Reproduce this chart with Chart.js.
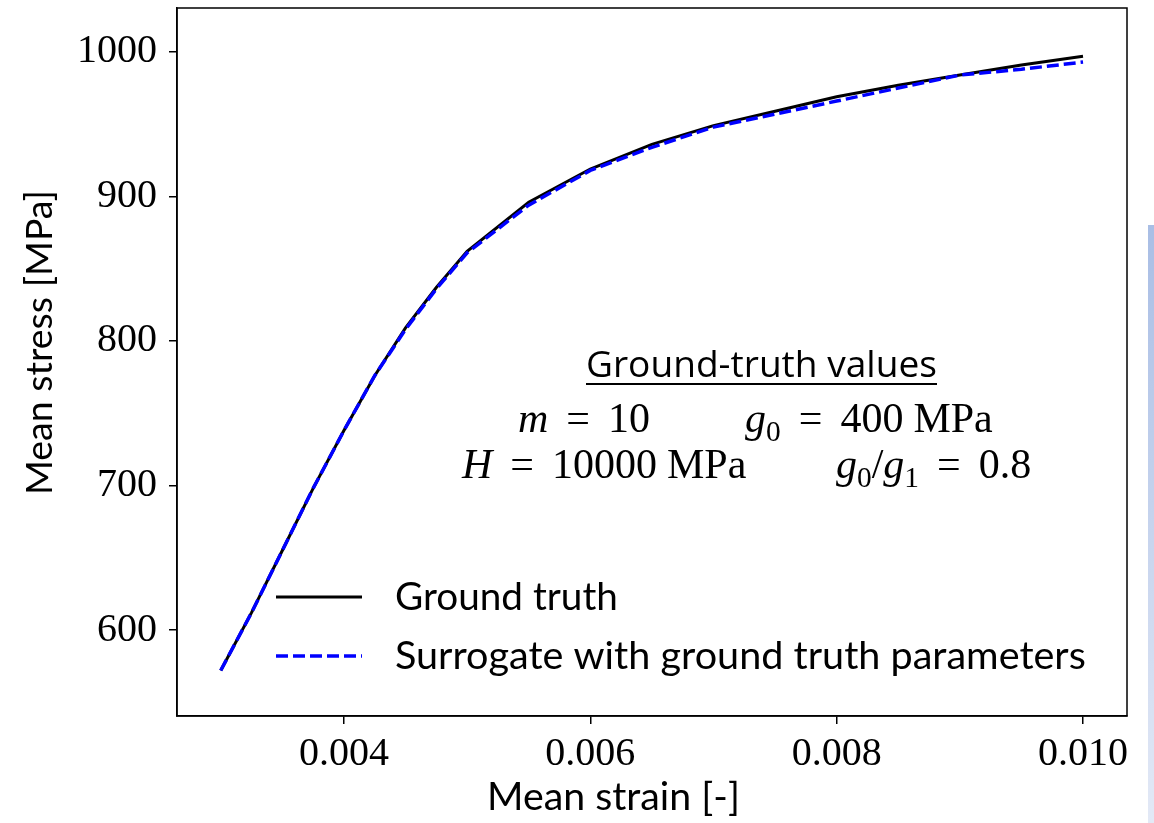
<!DOCTYPE html>
<html>
<head>
<meta charset="utf-8">
<script src="https://cdn.jsdelivr.net/npm/chart.js@4.4.1/dist/chart.umd.min.js"></script>
<style>
  html, body { margin: 0; padding: 0; background: #fff; }
  #wrap { position: relative; width: 1154px; height: 823px; }
  #edge { position: absolute; left: 1148px; top: 225px; width: 6px; height: 598px; background: linear-gradient(#a9bee5, #e3e9f6); }
</style>
</head>
<body>
<div id="wrap">
  <canvas id="stressChart" width="1154" height="823"></canvas>
  <div id="edge"></div>
</div>
<script>
// mean strain [-] and mean stress [MPa]
const strain = [0.003, 0.00325, 0.0035, 0.00375, 0.004, 0.00425, 0.0045, 0.00475, 0.005,
  0.0055, 0.006, 0.0065, 0.007, 0.0075, 0.008, 0.0085, 0.009, 0.0095, 0.010];
const groundTruth = [572, 612, 655, 698, 738, 776, 809, 837, 862,
  896, 919, 936, 949, 959, 969, 977, 984, 991, 997];
const surrogate = [572, 612, 655, 698, 738, 776, 808, 836, 861,
  894, 918, 934, 948, 957, 966, 975, 984, 988, 993];
const xTicks = [0.004, 0.006, 0.008, 0.010];
const yTicks = [600, 700, 800, 900, 1000];
const legendLabels = ['Ground truth', 'Surrogate with ground truth parameters'];

const toPoints = ys => strain.map((x, i) => ({ x, y: ys[i] }));

const serif = 'Liberation Serif';
const sans = 'Lato';

// draws a row of text pieces (math-ish), left aligned
function drawRuns(ctx, runs, x, baseline, size) {
  runs.forEach(r => {
    if (r.gap) { x += r.gap; return; }
    const s = r.sub ? size * 0.7 : size;
    ctx.font = (r.it ? 'italic ' : '') + s + 'px "' + serif + '"';
    ctx.fillText(r.t, x, baseline + (r.sub ? size * 0.22 : 0));
    x += ctx.measureText(r.t).width;
  });
}

function fitFont(ctx, text, family, width) {
  ctx.font = '40px "' + family + '"';
  const size = 40 * width / ctx.measureText(text).width;
  ctx.font = size + 'px "' + family + '"';
  return size;
}

const extras = {
  id: 'extras',
  afterDraw(chart) {
    const ctx = chart.ctx;
    const a = chart.chartArea;
    ctx.save();
    // frame
    ctx.strokeStyle = '#000';
    ctx.lineWidth = 1.5;
    ctx.strokeRect(a.left, a.top, a.right - a.left, a.bottom - a.top);

    ctx.fillStyle = '#000';
    ctx.textBaseline = 'alphabetic';
    ctx.textAlign = 'left';

    // axis titles
    fitFont(ctx, 'Mean strain [-]', sans, 253);
    ctx.fillText('Mean strain [-]', 487, 810);
    ctx.save();
    ctx.translate(52, 495);
    ctx.rotate(-Math.PI / 2);
    fitFont(ctx, 'Mean stress [MPa]', sans, 305);
    ctx.fillText('Mean stress [MPa]', 0, 0);
    ctx.restore();

    // legend
    ctx.lineWidth = 3;
    ctx.strokeStyle = '#000';
    ctx.beginPath(); ctx.moveTo(276, 597); ctx.lineTo(362, 597); ctx.stroke();
    ctx.lineWidth = 3.5;
    ctx.strokeStyle = '#0000ff';
    ctx.setLineDash([12, 5]);
    ctx.beginPath(); ctx.moveTo(276, 656); ctx.lineTo(362, 656); ctx.stroke();
    ctx.setLineDash([]);
    fitFont(ctx, legendLabels[0], sans, 223);
    ctx.fillText(legendLabels[0], 395, 610);
    fitFont(ctx, legendLabels[1], sans, 691);
    ctx.fillText(legendLabels[1], 395, 669);

    // ground-truth parameter box
    fitFont(ctx, 'Ground-truth values', 'Open Sans', 351);
    ctx.fillText('Ground-truth values', 586, 377);
    ctx.lineWidth = 2;
    ctx.strokeStyle = '#000';
    ctx.beginPath(); ctx.moveTo(586, 384); ctx.lineTo(937, 384); ctx.stroke();

    const m = 42;
    drawRuns(ctx, [{ t: 'm', it: true }, { gap: 18 }, { t: '=' }, { gap: 18 }, { t: '10' }], 518, 432, m);
    drawRuns(ctx, [{ t: 'g', it: true }, { t: '0', sub: true }, { gap: 18 }, { t: '=' }, { gap: 18 },
      { t: '400' }, { gap: 10 }, { t: 'MPa' }], 745, 432, m);
    drawRuns(ctx, [{ t: 'H', it: true }, { gap: 18 }, { t: '=' }, { gap: 18 }, { t: '10000' },
      { gap: 10 }, { t: 'MPa' }], 462, 478, m);
    drawRuns(ctx, [{ t: 'g', it: true }, { t: '0', sub: true }, { t: '/' }, { t: 'g', it: true },
      { t: '1', sub: true }, { gap: 18 }, { t: '=' }, { gap: 18 }, { t: '0.8' }], 836, 478, m);
    ctx.restore();
  }
};

const axisStyle = {
  grid: { drawOnChartArea: false, drawTicks: true, tickLength: 8, color: '#000', lineWidth: 1.5 },
  border: { display: true, color: '#000', width: 1.5 }
};

const ctxStress = document.getElementById('stressChart').getContext('2d');
const stressChart = new Chart(ctxStress, {
  type: 'line',
  data: {
    datasets: [
      {
        label: legendLabels[1],
        data: toPoints(surrogate),
        borderColor: '#0000ff',
        borderWidth: 3.5,
        borderDash: [12, 5],
        pointRadius: 0,
        fill: false,
        order: 0
      },
      {
        label: legendLabels[0],
        data: toPoints(groundTruth),
        borderColor: '#000000',
        borderWidth: 3,
        pointRadius: 0,
        fill: false,
        order: 1
      }
    ]
  },
  options: {
    responsive: false,
    animation: false,
    layout: { padding: { left: 0, right: 27, top: 8, bottom: 0 } },
    plugins: {
      legend: { display: false },
      tooltip: { enabled: false }
    },
    scales: {
      x: {
        type: 'linear',
        min: 0.002645,
        max: 0.010357,
        afterBuildTicks: s => { s.ticks = xTicks.map(v => ({ value: v })); },
        afterFit: s => { s.height = 107; s.paddingLeft = 0; s.paddingRight = 0; },
        ...axisStyle,
        ticks: {
          color: '#000',
          autoSkip: false,
          maxRotation: 0,
          padding: 6,
          font: { family: serif, size: 40 },
          callback: v => v.toFixed(3)
        }
      },
      y: {
        type: 'linear',
        min: 540.5,
        max: 1030.4,
        afterBuildTicks: s => { s.ticks = yTicks.map(v => ({ value: v })); },
        afterFit: s => { s.width = 177; s.paddingTop = 0; s.paddingBottom = 0; },
        ...axisStyle,
        ticks: {
          color: '#000',
          autoSkip: false,
          padding: 12,
          font: { family: serif, size: 40 },
          callback: v => String(v)
        }
      }
    }
  },
  plugins: [extras]
});
</script>
</body>
</html>
